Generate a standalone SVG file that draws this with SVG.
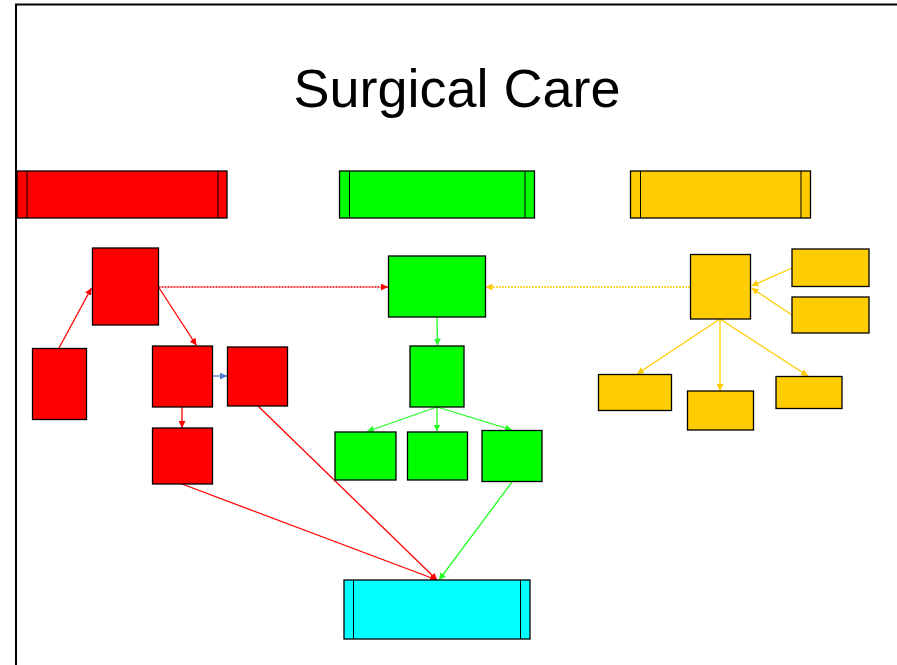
<svg xmlns="http://www.w3.org/2000/svg" width="897" height="665" viewBox="0 0 897 665">
  <style>
    .box { stroke: #000; stroke-width: 1.3; }
    .red { fill: #FF0000; }
    .green { fill: #00FF00; }
    .yellow { fill: #FFCC00; }
    .cyan { fill: #00FFFF; }
    .bar { stroke: #000; stroke-width: 1; }
    .frame { stroke: #000; stroke-width: 2; fill: none; }
    .c { fill: none; stroke-width: 1.3; }
    .cr { stroke: #FF0000; marker-end: url(#ah-red); }
    .cg { stroke: #22FF22; marker-end: url(#ah-green); }
    .cy { stroke: #FFCC00; marker-end: url(#ah-yellow); }
    .cb { stroke: #4F7BD0; marker-end: url(#ah-blue); }
    .dash { stroke-dasharray: 2 1; }
    .title { font-family: "Liberation Sans", Arial, sans-serif; font-size: 54px; fill: #000; }
  </style>
  <defs>
    <marker id="ah-red" viewBox="0 0 8 8" refX="8" refY="4" markerWidth="7" markerHeight="7" markerUnits="userSpaceOnUse" orient="auto">
      <path d="M0,0 L8,4 L0,8 Z" fill="#FF0000"/>
    </marker>
    <marker id="ah-green" viewBox="0 0 8 8" refX="8" refY="4" markerWidth="7" markerHeight="7" markerUnits="userSpaceOnUse" orient="auto">
      <path d="M0,0 L8,4 L0,8 Z" fill="#22FF22"/>
    </marker>
    <marker id="ah-yellow" viewBox="0 0 8 8" refX="8" refY="4" markerWidth="7" markerHeight="7" markerUnits="userSpaceOnUse" orient="auto">
      <path d="M0,0 L8,4 L0,8 Z" fill="#FFCC00"/>
    </marker>
    <marker id="ah-blue" viewBox="0 0 8 8" refX="8" refY="4" markerWidth="7" markerHeight="7" markerUnits="userSpaceOnUse" orient="auto">
      <path d="M0,0 L8,4 L0,8 Z" fill="#4F7BD0"/>
    </marker>
  </defs>

  <rect width="897" height="665" fill="#fff"/>
  <!-- page frame (top and left edges) -->
  <path class="frame" d="M16,665 L16,4.5 L897,4.5"/>

  <text class="title" x="457" y="107" text-anchor="middle">Surgical Care</text>

  <!-- column headers -->
  <g id="header-red">
    <rect class="box red" x="17" y="171" width="210" height="47"/>
    <line class="bar" x1="27" y1="171" x2="27" y2="218"/>
    <line class="bar" x1="218" y1="171" x2="218" y2="218"/>
  </g>
  <g id="header-green">
    <rect class="box green" x="339.5" y="171" width="195" height="47"/>
    <line class="bar" x1="349.5" y1="171" x2="349.5" y2="218"/>
    <line class="bar" x1="525" y1="171" x2="525" y2="218"/>
  </g>
  <g id="header-yellow">
    <rect class="box yellow" x="630.5" y="171" width="180" height="47"/>
    <line class="bar" x1="640.5" y1="171" x2="640.5" y2="218"/>
    <line class="bar" x1="801" y1="171" x2="801" y2="218"/>
  </g>

  <!-- connectors -->
  <g id="connectors">
    <line class="c cr" x1="59" y1="348" x2="91.5" y2="288"/>
    <line class="c cr" x1="158.5" y1="287" x2="196.5" y2="345.5"/>
    <line class="c cr dash" x1="158.5" y1="287" x2="388" y2="287"/>
    <line class="c cb" x1="212" y1="376" x2="227" y2="376"/>
    <line class="c cr" x1="182" y1="407" x2="182" y2="428"/>
    <line class="c cr" x1="258" y1="406" x2="437" y2="580"/>
    <line class="c cr" x1="182" y1="484" x2="437" y2="580"/>

    <line class="c cy dash" x1="690" y1="287" x2="485.5" y2="287"/>
    <line class="c cg" x1="437" y1="317" x2="437.5" y2="345.5"/>
    <line class="c cg" x1="437" y1="407" x2="367" y2="431.5"/>
    <line class="c cg" x1="437" y1="407" x2="437" y2="431.5"/>
    <line class="c cg" x1="437" y1="407" x2="512" y2="430"/>
    <line class="c cg" x1="512" y1="482" x2="439" y2="580"/>

    <line class="c cy" x1="792" y1="268" x2="751.5" y2="286"/>
    <line class="c cy" x1="792" y1="315" x2="751.5" y2="288"/>
    <line class="c cy" x1="720" y1="319" x2="637" y2="374"/>
    <line class="c cy" x1="720" y1="319" x2="720" y2="391"/>
    <line class="c cy" x1="720" y1="319" x2="808" y2="376"/>
  </g>

  <!-- red column -->
  <g id="red-a"><rect class="box red" x="92.5" y="248" width="66" height="77"/></g>
  <g id="red-b"><rect class="box red" x="32.5" y="348.5" width="54" height="71"/></g>
  <g id="red-c"><rect class="box red" x="152.5" y="346" width="60" height="61"/></g>
  <g id="red-d"><rect class="box red" x="227.5" y="347" width="60" height="59"/></g>
  <g id="red-e"><rect class="box red" x="152.5" y="428" width="60" height="56"/></g>

  <!-- green column -->
  <g id="green-a"><rect class="box green" x="388.5" y="256" width="97" height="61"/></g>
  <g id="green-b"><rect class="box green" x="410" y="346" width="54" height="61"/></g>
  <g id="green-c"><rect class="box green" x="335" y="432" width="61" height="48"/></g>
  <g id="green-d"><rect class="box green" x="407.5" y="432" width="60" height="48"/></g>
  <g id="green-e"><rect class="box green" x="482" y="430.5" width="60" height="51"/></g>

  <!-- yellow column -->
  <g id="yellow-a"><rect class="box yellow" x="690.5" y="254.5" width="60" height="64.5"/></g>
  <g id="yellow-b"><rect class="box yellow" x="792" y="249" width="77" height="37.5"/></g>
  <g id="yellow-c"><rect class="box yellow" x="792" y="297" width="77" height="36"/></g>
  <g id="yellow-d"><rect class="box yellow" x="598.5" y="374.5" width="73" height="36"/></g>
  <g id="yellow-e"><rect class="box yellow" x="687.5" y="391" width="66" height="39"/></g>
  <g id="yellow-f"><rect class="box yellow" x="776" y="376.5" width="66" height="32"/></g>

  <!-- outcome -->
  <g id="outcome">
    <rect class="box cyan" x="344" y="580" width="186" height="59"/>
    <line class="bar" x1="353.5" y1="580" x2="353.5" y2="639"/>
    <line class="bar" x1="520.5" y1="580" x2="520.5" y2="639"/>
  </g>
</svg>
